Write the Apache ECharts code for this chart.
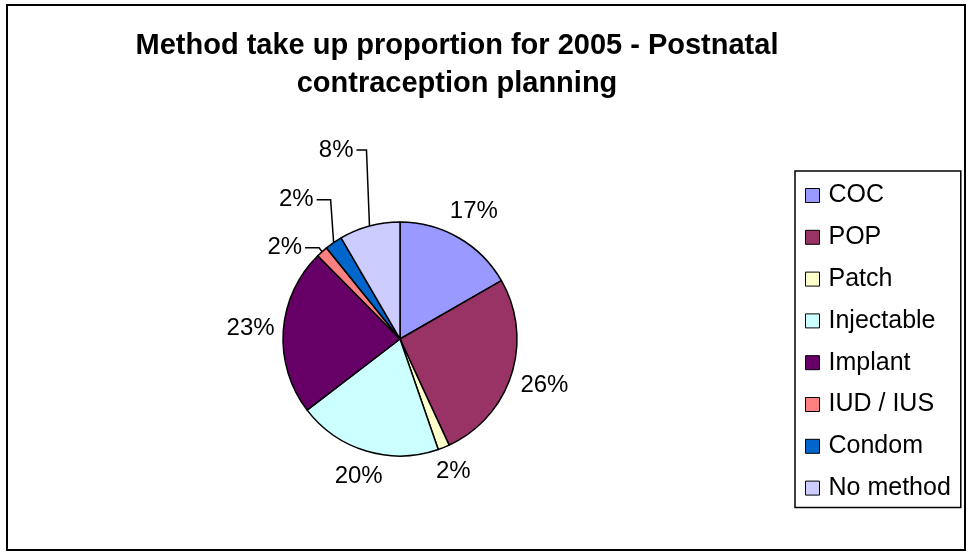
<!DOCTYPE html>
<html>
<head>
<meta charset="utf-8">
<script src="https://cdn.jsdelivr.net/npm/echarts@6/dist/echarts.min.js"></script>
<style>
  html, body { margin: 0; padding: 0; background: #fff; }
  #main { width: 968px; height: 557px; }
</style>
</head>
<body>
<div id="main"></div>
<script>
  // data (percent of uptake)
  var methods = ['COC', 'POP', 'Patch', 'Injectable', 'Implant', 'IUD / IUS', 'Condom', 'No method'];
  var shares = [16.7, 26.4, 1.6, 19.9, 23.0, 1.6, 2.4, 8.4];
  var colors = ['#9999FF', '#993366', '#FFFFCC', '#CCFFFF', '#660066', '#FF8080', '#0066CC', '#CCCCFF'];

  var CX = 400, CY = 339, R = 117;
  // small slices get an elbow leader: [rise above the edge, gap left of the edge]
  var leaders = { 'IUD / IUS': [4, 20], 'Condom': [43, 20], 'No method': [76, 16] };

  var total = shares.reduce(function (a, b) { return a + b; }, 0);

  function midAngle(i) {
    var cum = 0;
    for (var k = 0; k < i; k++) cum += shares[k];
    return (cum + shares[i] / 2) / total * Math.PI * 2;
  }

  var myChart = echarts.init(document.getElementById('main'));

  var pieData = methods.map(function (name, i) {
    var item = { name: name, value: shares[i], itemStyle: { color: colors[i] } };
    if (leaders[name]) item.labelLine = { show: true };
    return item;
  });

  var option = {
    backgroundColor: '#fff',
    animation: false,
    title: {
      text: 'Method take up proportion for 2005 - Postnatal\ncontraception planning',
      left: 457,
      top: 27,
      padding: 0,
      textAlign: 'center',
      textStyle: {
        fontFamily: 'Liberation Sans',
        fontSize: 29,
        fontWeight: 'bold',
        lineHeight: 38,
        color: '#000'
      }
    },
    legend: {
      orient: 'vertical',
      left: 795,
      top: 171,
      padding: [12, 10, 7, 10],
      borderColor: '#000',
      borderWidth: 1.5,
      itemWidth: 14,
      itemHeight: 14,
      itemGap: 16.8,
      icon: 'rect',
      itemStyle: { borderColor: '#000', borderWidth: 1 },
      textStyle: {
        fontFamily: 'Liberation Sans',
        fontSize: 25,
        lineHeight: 25,
        color: '#000',
        padding: [0, 0, 0, 4]
      },
      data: methods
    },
    graphic: [{
      type: 'rect',
      shape: { x: 7, y: 5, width: 958, height: 545 },
      style: { fill: 'none', stroke: '#000', lineWidth: 2 },
      silent: true
    }],
    series: [{
      type: 'pie',
      center: [CX, CY],
      radius: R,
      startAngle: 90,
      clockwise: true,
      avoidLabelOverlap: false,
      percentPrecision: 0,
      emphasis: { disabled: true },
      itemStyle: { borderColor: '#000', borderWidth: 1.5 },
      label: {
        show: true,
        position: 'outside',
        formatter: '{d}%',
        fontFamily: 'Liberation Sans',
        fontSize: 24,
        color: '#000'
      },
      labelLine: {
        show: false,
        length: 10,
        length2: 0,
        lineStyle: { color: '#000', width: 1.5 }
      },
      labelLayout: function (p) {
        var a = midAngle(p.dataIndex);
        var ux = Math.sin(a), uy = -Math.cos(a);
        var w = p.labelRect.width, h = p.labelRect.height;
        var lead = leaders[methods[p.dataIndex]];
        if (!lead) {
          var d = R + 8 + Math.abs(ux) * w / 2 + Math.abs(uy) * h / 2;
          return { x: CX + d * ux, y: CY + d * uy, align: 'center', verticalAlign: 'middle' };
        }
        var ex = CX + R * ux, ey = CY + R * uy;
        var ly = ey - lead[0];
        var rx = ex - lead[1];
        return {
          x: rx, y: ly, align: 'right', verticalAlign: 'middle',
          labelLinePoints: [[ex, ey], [ex - 3, ly], [rx + 3, ly]]
        };
      },
      data: pieData
    }]
  };

  myChart.setOption(option);
</script>
</body>
</html>
